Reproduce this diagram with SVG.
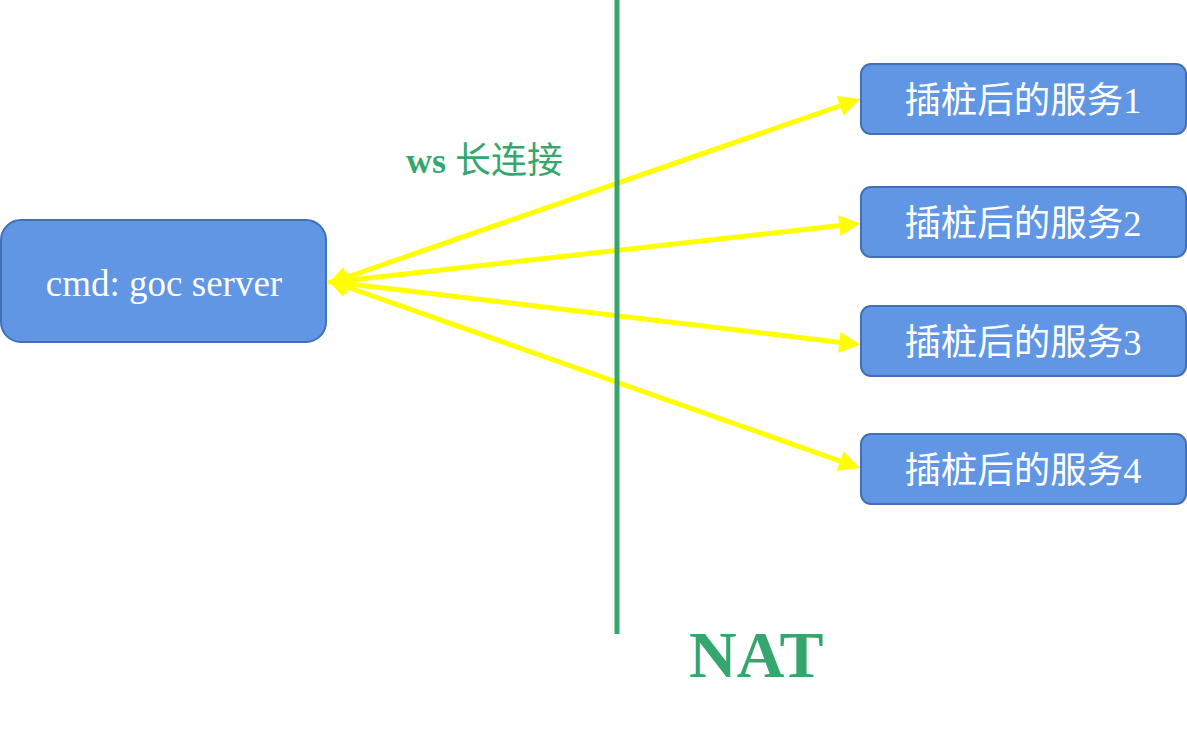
<svg xmlns="http://www.w3.org/2000/svg" width="1187" height="733" viewBox="0 0 1187 733">
<style>
.box{fill:#6096E4;stroke:#4170B8;stroke-width:2}
.lbl{font-family:"Liberation Serif","Noto Sans CJK SC",serif;fill:#ffffff;text-anchor:middle}
.conn{stroke:#FFFF00;stroke-width:5;fill:none;marker-end:url(#ah);marker-start:url(#ah)}
.green{fill:#36A66F;font-family:"Liberation Serif","Noto Sans CJK SC",serif}
</style>
<defs>
<marker id="ah" viewBox="0 0 10 10" refX="7" refY="5" markerWidth="4.4" markerHeight="4.2" orient="auto-start-reverse" markerUnits="strokeWidth">
<path d="M0,0 L10,5 L0,10 Z" fill="#FFFF00"/>
</marker>
</defs>
<rect width="1187" height="733" fill="#ffffff"/>
<g id="connectors">
<line class="conn" x1="333" y1="282" x2="854" y2="101"/>
<line class="conn" x1="333" y1="282" x2="854" y2="224"/>
<line class="conn" x1="333" y1="282" x2="854" y2="344"/>
<line class="conn" x1="333" y1="282" x2="854" y2="466"/>
</g>
<g id="nat-line">
<line x1="617" y1="0" x2="617" y2="634" stroke="#36A66F" stroke-width="5"/>
</g>
<g id="server">
<rect class="box" x="1" y="220" width="325" height="122" rx="20"/>
<text class="lbl" x="164" y="296" font-size="37">cmd: goc server</text>
</g>
<g id="svc1">
<rect class="box" x="861" y="64" width="325" height="70" rx="10"/>
<text class="lbl" x="1023" y="113" font-size="36.5">插桩后的服务1</text>
</g>
<g id="svc2">
<rect class="box" x="861" y="187" width="325" height="70" rx="10"/>
<text class="lbl" x="1023" y="236" font-size="36.5">插桩后的服务2</text>
</g>
<g id="svc3">
<rect class="box" x="861" y="306" width="325" height="70" rx="10"/>
<text class="lbl" x="1023" y="355" font-size="36.5">插桩后的服务3</text>
</g>
<g id="svc4">
<rect class="box" x="861" y="434" width="325" height="70" rx="10"/>
<text class="lbl" x="1023" y="483" font-size="36.5">插桩后的服务4</text>
</g>
<g id="ws-label">
<text class="green" x="406" y="173" font-size="36"><tspan font-weight="bold">ws</tspan> 长连接</text>
</g>
<g id="nat-label">
<text class="green" x="689" y="677" font-size="66" font-weight="bold">NAT</text>
</g>
</svg>
